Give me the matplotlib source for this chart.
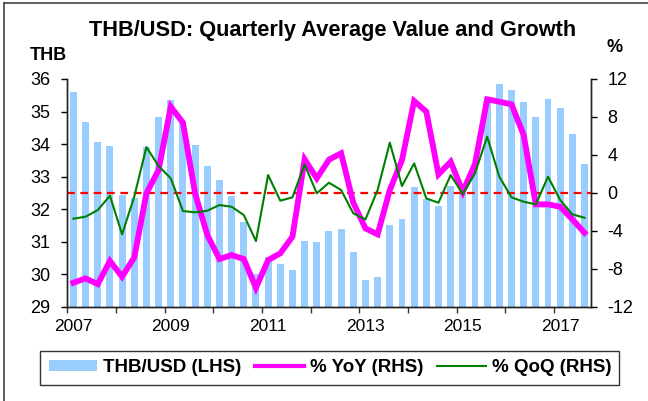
import matplotlib
matplotlib.use("Agg")
import matplotlib.pyplot as plt
from matplotlib.lines import Line2D
from matplotlib.patches import Patch

plt.rcParams['font.family'] = ['Liberation Sans', 'DejaVu Sans']

quarters = [
    "2007Q1", "2007Q2", "2007Q3", "2007Q4", "2008Q1", "2008Q2", "2008Q3", "2008Q4",
    "2009Q1", "2009Q2", "2009Q3", "2009Q4", "2010Q1", "2010Q2", "2010Q3", "2010Q4",
    "2011Q1", "2011Q2", "2011Q3", "2011Q4", "2012Q1", "2012Q2", "2012Q3", "2012Q4",
    "2013Q1", "2013Q2", "2013Q3", "2013Q4", "2014Q1", "2014Q2", "2014Q3", "2014Q4",
    "2015Q1", "2015Q2", "2015Q3", "2015Q4", "2016Q1", "2016Q2", "2016Q3", "2016Q4",
    "2017Q1", "2017Q2", "2017Q3",
]

thb_usd = [
    35.60, 34.69, 34.07, 33.94, 32.43, 32.35, 33.90, 34.84,
    35.36, 34.69, 33.97, 33.33, 32.90, 32.40, 31.61, 30.00,
    30.54, 30.30, 30.13, 31.02, 30.99, 31.33, 31.38, 30.68,
    29.82, 29.91, 31.50, 31.70, 32.68, 32.30, 32.10, 32.72,
    32.49, 33.30, 35.40, 35.85, 35.66, 35.29, 34.83, 35.40,
    35.12, 34.30, 33.39,
]

yoy = [
    -9.47, -9.01, -9.61, -7.18, -8.83, -6.80, -0.05, 2.41,
    9.08, 7.40, -0.05, -4.44, -6.97, -6.55, -6.97, -10.00,
    -7.08, -6.37, -4.62, 3.53, 1.53, 3.50, 4.17, -1.04,
    -3.74, -4.37, 0.30, 3.46, 9.68, 8.56, 1.95, 3.28,
    0.12, 3.04, 9.86, 9.61, 9.33, 6.10, -1.21, -1.21,
    -1.46, -2.79, -4.20,
]

qoq = [
    -2.72, -2.51, -1.81, -0.30, -4.37, -0.40, 4.83, 2.83,
    1.53, -1.91, -2.05, -1.88, -1.28, -1.46, -2.33, -5.08,
    1.88, -0.82, -0.47, 3.00, -0.05, 1.07, 0.30, -2.16,
    -2.79, 0.30, 5.29, 0.72, 3.11, -0.58, -1.04, 1.88,
    -0.12, 2.06, 5.92, 1.70, -0.47, -0.93, -1.21, 1.70,
    -0.75, -2.26, -2.62,
]

year_labels = ["2007", "2009", "2011", "2013", "2015", "2017"]
left_ticks = [29, 30, 31, 32, 33, 34, 35, 36]
right_ticks = [-12, -8, -4, 0, 4, 8, 12]

BAR_C = "#99CCFF"
YOY_C = "#FF00FF"
QOQ_C = "#007F00"

fig = plt.figure(figsize=(6.48, 4.01), dpi=100)
fig.subplots_adjust(left=0.1039, right=0.9114, top=0.803, bottom=0.235)
ax = fig.add_subplot(111)
ax2 = ax.twinx()

x = list(range(len(quarters)))
ax.bar(x, [v - 29 for v in thb_usd], bottom=29, width=0.57, color=BAR_C, zorder=2)
ax.set_ylim(29, 36)
ax.set_xlim(-0.5, len(quarters) - 0.5)
ax.set_yticks(left_ticks)
ax.set_yticklabels([str(t) for t in left_ticks])

ax2.axhline(0, color="#FF0000", lw=1.6, ls=(0, (3.5, 2.5)), zorder=1)
ax2.plot(x, yoy, color=YOY_C, lw=4.2, solid_joinstyle="miter", zorder=3)
ax2.plot(x, qoq, color=QOQ_C, lw=1.5, zorder=4)
ax2.set_ylim(-12, 12)
ax2.set_yticks(right_ticks)
ax2.set_yticklabels([str(t) for t in right_ticks])

# x axis: year boundary ticks, labels on first quarter of alternate years
bounds = [i - 0.5 for i in range(0, len(quarters) + 1, 4)]
ax.set_xticks(bounds)
ax.set_xticklabels([""] * len(bounds))
label_pos = [quarters.index(y + "Q1") for y in year_labels]
ax.set_xticks(label_pos, minor=True)
ax.set_xticklabels(year_labels, minor=True)
ax.tick_params(axis="x", which="minor", length=0, pad=9, labelsize=12.5)
ax.tick_params(axis="x", which="major", length=4, width=1, direction="out", color="#333333")
ax.tick_params(axis="y", length=4, width=1, direction="out", pad=8, labelsize=13)
ax2.tick_params(axis="y", length=4, width=1, direction="out", pad=8, labelsize=13)

for a in (ax, ax2):
    a.spines["top"].set_visible(False)
    for s in ("left", "right", "bottom"):
        a.spines[s].set_linewidth(1.0)
        a.spines[s].set_color("#222222")

fig.text(0.513, 0.925, "THB/USD: Quarterly Average Value and Growth",
         ha="center", va="center", fontsize=15.7, fontweight="bold")
fig.text(0.0465, 0.862, "THB", ha="left", va="center", fontsize=13, fontweight="bold")
fig.text(0.949, 0.882, "%", ha="center", va="center", fontsize=13, fontweight="bold")

handles = [
    Patch(facecolor=BAR_C, edgecolor="none"),
    Line2D([0], [0], color=YOY_C, lw=3),
    Line2D([0], [0], color=QOQ_C, lw=1.5),
]
labels = ["THB/USD (LHS)", "% YoY (RHS)", "% QoQ (RHS)"]
leg = fig.legend(handles, labels, loc="center", bbox_to_anchor=(0.509, 0.0825),
                 ncol=3, frameon=True, fancybox=False, edgecolor="#000000",
                 prop={"weight": "bold", "size": 13.5}, handlelength=2.6,
                 handleheight=0.5, handletextpad=0.3, columnspacing=0.75,
                 borderpad=0.45, borderaxespad=0)
leg.get_frame().set_linewidth(1.0)

fig.add_artist(Line2D([0.006, 0.006], [0.0, 0.993], transform=fig.transFigure,
                      color="#444444", lw=1.2))
fig.add_artist(Line2D([0.006, 1.0], [0.993, 0.993], transform=fig.transFigure,
                      color="#444444", lw=1.2))

fig.savefig("out.png", dpi=100)
